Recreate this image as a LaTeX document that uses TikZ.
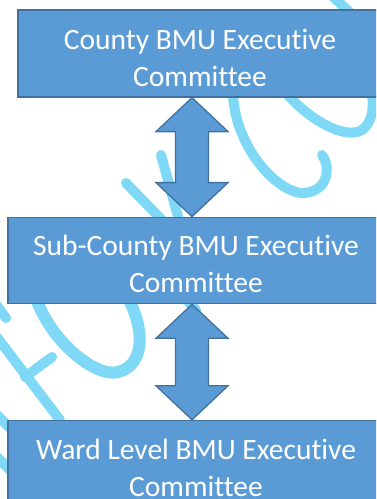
\documentclass[tikz,border=0pt]{standalone}
\usepackage{fontspec}
\setmainfont{Carlito}[Ligatures=NoCommon]
\usetikzlibrary{positioning,calc}
\definecolor{boxblue}{HTML}{5B9BD5}
\definecolor{boxedge}{HTML}{41719C}
\definecolor{markcyan}{HTML}{7FD8F5}
\tikzset{
  block/.style={
    draw=boxedge,
    fill=boxblue,
    rectangle,
    line width=1.2pt,
    text=white,
    minimum height=87pt,
    minimum width=376pt,
    text height=65pt,
    text depth=0pt,
    align=center,
    font=\fontsize{29.5}{37}\selectfont
  },
  bigarrow/.style={draw=boxedge,fill=boxblue,line width=1.3pt,line join=miter},
  stroke/.style={draw=markcyan,line width=10pt,line cap=round}
}
\newcommand{\twoway}[2]{%
  \draw[bigarrow] (#1) -- ++(-36,34) -- ++(19.5,0) -- ($(#2)+(-16.5,-34)$)
    -- ++(-19.5,0) -- (#2) -- ++(36,-34) -- ++(-19.5,0)
    -- ($(#1)+(16.5,34)$) -- ++(19.5,0) -- cycle;}
\begin{document}
\begin{tikzpicture}[x=1pt,y=-1pt]
	\useasboundingbox (0,0) rectangle (376,499);
	\clip (0,0) rectangle (376,499);

	% watermark
	\draw[stroke] (328,-8) -- (362,24);
	\draw[stroke] (233,95) .. controls (236,150) and (280,195) .. (305,193) .. controls (330,190) and (330,165) .. (322,155);
	\draw[stroke] (288,95) .. controls (310,120) and (345,140) .. (362,130) .. controls (372,122) and (374,110) .. (372,95);
	\draw[stroke] (161,155) -- (179,220);
	\draw[stroke] (126,183) -- (162,220);
	\draw[stroke] (178,290) -- (196,310);
	\draw[stroke, line width=12pt] (36,298) .. controls (50,340) and (95,378) .. (118,372) .. controls (145,365) and (145,330) .. (128,298);
	\draw[stroke] (-4,336) -- (60,420);
	\draw[stroke] (52,357) -- (25,377);
	\draw[stroke] (-6,302) -- (6,318);
	\draw[stroke] (-4,414) -- (12,430);
	\draw[stroke] (-4,456) -- (12,472);

	% committees
	\node[block, minimum width=364pt] (county) at (200,53.5) {County BMU Executive\\Committee};
	\node[block, below=119pt of county, xshift=-4pt, minimum height=86.5pt] (subcounty) {Sub-County BMU Executive\\Committee};
	\node[block, below=115.5pt of subcounty] (ward) {Ward Level BMU Executive\\Committee};

	% arrows
	\coordinate (axis) at (192,0);
	\twoway{county.south -| axis}{subcounty.north -| axis}
	\twoway{subcounty.south -| axis}{ward.north -| axis}

\end{tikzpicture}
\end{document}
